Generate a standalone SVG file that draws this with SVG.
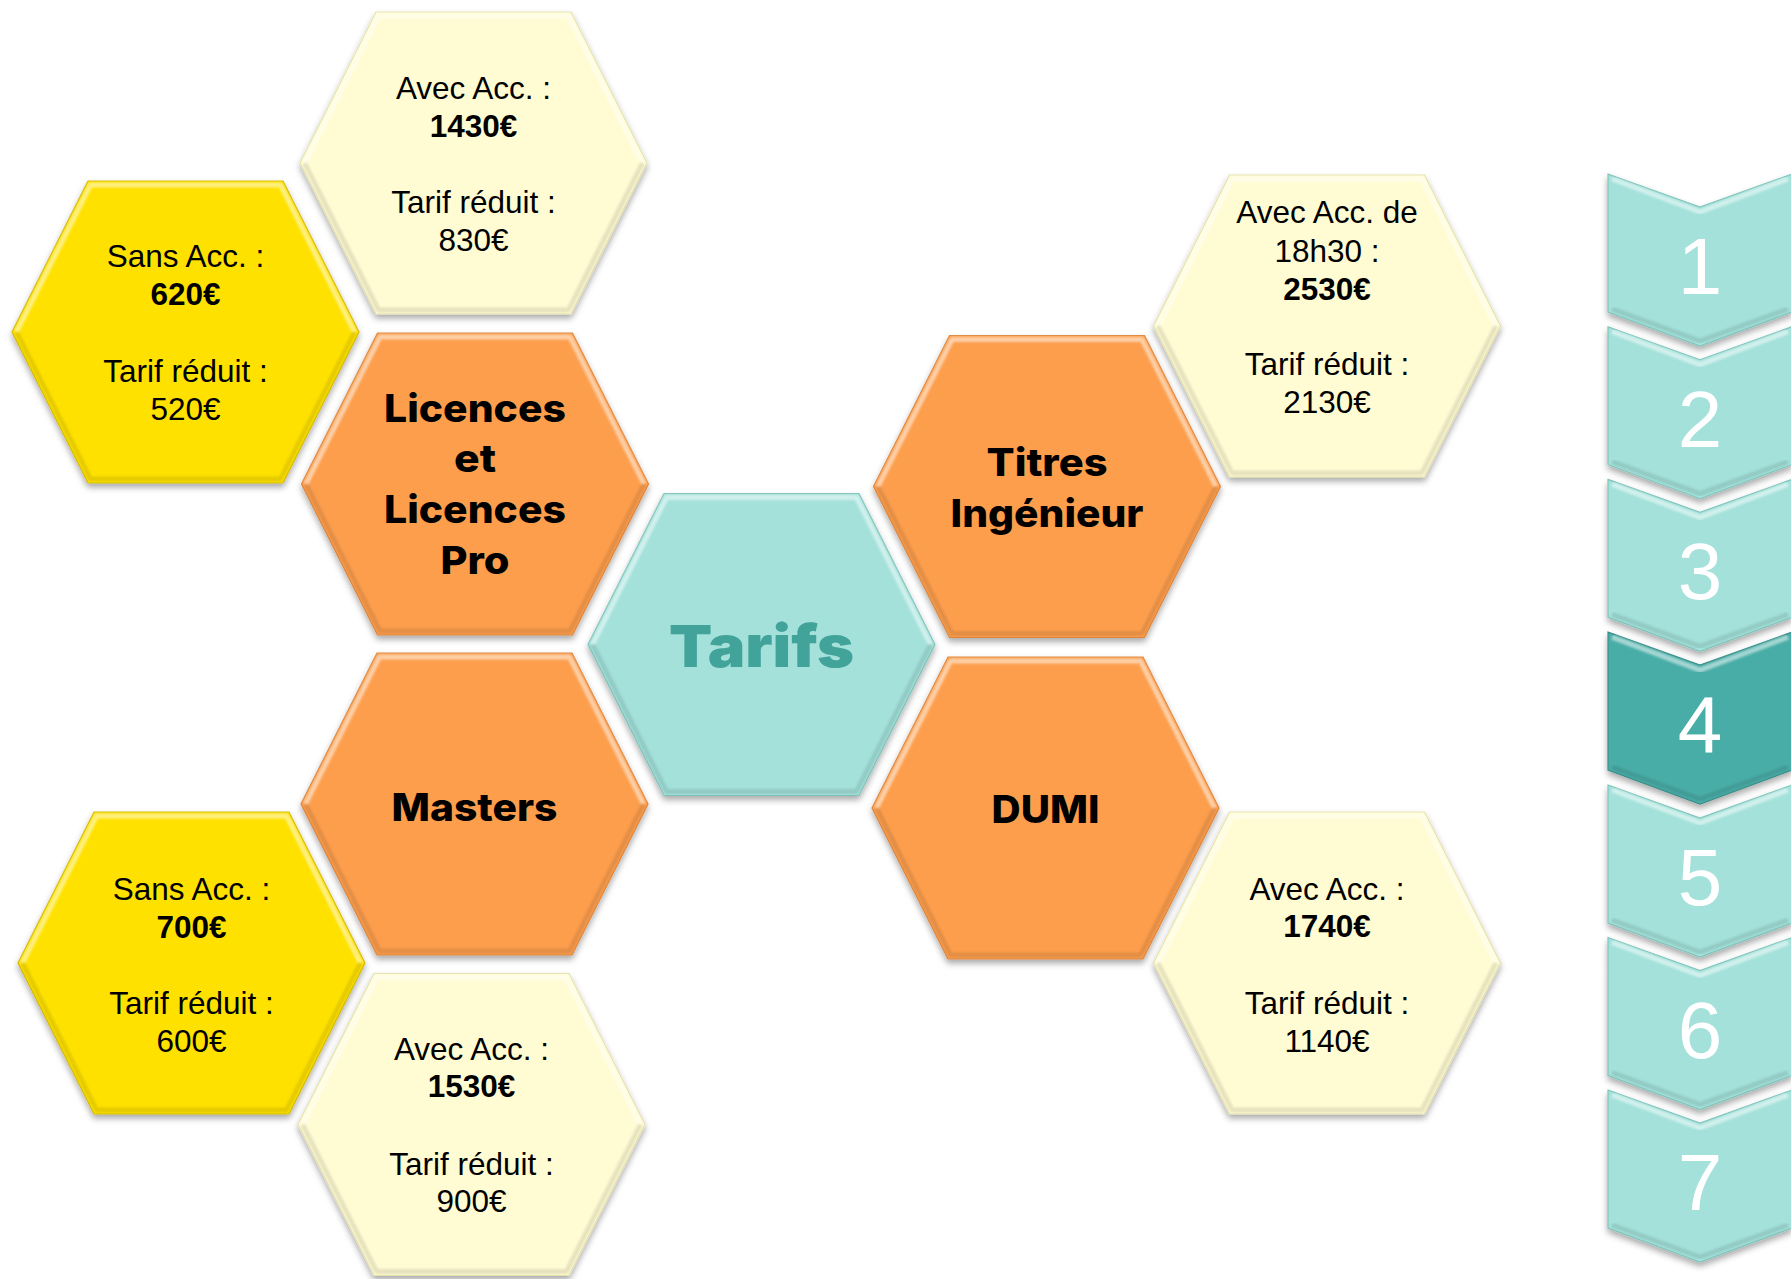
<svg xmlns="http://www.w3.org/2000/svg" xmlns:xlink="http://www.w3.org/1999/xlink" width="1791" height="1279" viewBox="0 0 1791 1279">
<style>
.cream{fill:#FFFCD3;stroke:#E6E1AE;stroke-width:1.2}
.yellow{fill:#FFE102;stroke:#D6BB00;stroke-width:1.2}
.orange{fill:#FD9E4D;stroke:#E0873C;stroke-width:1.2}
.teal{fill:#A3E1DA;stroke:#80C4BC;stroke-width:1.2}
.dark{fill:#4AADA7;stroke:#3A8F89;stroke-width:1.2}
.hi{fill:none;stroke:#FFFFFF;stroke-opacity:0.5;stroke-width:5;stroke-linejoin:round}
.lo{fill:none;stroke:#000000;stroke-opacity:0.1;stroke-width:5;stroke-linejoin:round}
.price{font-family:"Liberation Sans",Arial,sans-serif;font-size:31.5px;fill:#000;text-anchor:middle}
.b{font-weight:bold}
.cat{font-family:Inter,"Noto Sans",sans-serif;font-weight:800;font-size:38px;fill:#000;text-anchor:middle}
.title{font-family:Inter,"Noto Sans",sans-serif;font-weight:900;font-size:58px;fill:#42A39B;text-anchor:middle}
.num{font-family:"Liberation Sans",Arial,sans-serif;font-size:80px;fill:#FFFFFF;text-anchor:middle}
</style>
<defs>
<filter id="sh" x="-10%" y="-10%" width="120%" height="125%">
<feDropShadow dx="0" dy="4" stdDeviation="3" flood-color="#000" flood-opacity="0.33"/>
</filter>
<filter id="soft" x="-5%" y="-5%" width="110%" height="110%">
<feGaussianBlur stdDeviation="1.2"/>
</filter>
<path id="hex" d="M-173.5,0 L-97.5,-151 L97.5,-151 L173.5,0 L97.5,151 L-97.5,151 Z"/>
<path id="hexHi" d="M-169,0 L-95,-147 L95,-147 L169,0"/>
<path id="hexLo" d="M-169,0 L-95,147 L95,147 L169,0"/>
<path id="chev" d="M0,0 L92,33 L184,0 L184,138 L92,172 L0,138 Z"/>
<path id="chevHi" d="M4,5 L92,38 L180,5"/>
<path id="chevLo" d="M4,135 L92,167 L180,135"/>
</defs>
<rect width="1791" height="1279" fill="#FFFFFF"/>

<g id="connectors"></g>

<g id="node-avec-licences" transform="translate(473.5,163)">
<use xlink:href="#hex" class="cream" filter="url(#sh)"/>
<use xlink:href="#hexHi" class="hi" filter="url(#soft)"/><use xlink:href="#hexLo" class="lo" filter="url(#soft)"/>
<text class="price" y="-64">Avec Acc. :</text>
<text class="price b" y="-26">1430€</text>
<text class="price" y="50">Tarif réduit :</text>
<text class="price" y="88">830€</text>
</g>

<g id="node-sans-licences" transform="translate(185.5,332)">
<use xlink:href="#hex" class="yellow" filter="url(#sh)"/>
<use xlink:href="#hexHi" class="hi" filter="url(#soft)"/><use xlink:href="#hexLo" class="lo" filter="url(#soft)"/>
<text class="price" y="-65">Sans Acc. :</text>
<text class="price b" y="-27">620€</text>
<text class="price" y="50">Tarif réduit :</text>
<text class="price" y="88">520€</text>
</g>

<g id="node-licences" transform="translate(475,484)">
<use xlink:href="#hex" class="orange" filter="url(#sh)"/>
<use xlink:href="#hexHi" class="hi" filter="url(#soft)"/><use xlink:href="#hexLo" class="lo" filter="url(#soft)"/>
<text class="cat" y="-62" textLength="182" lengthAdjust="spacingAndGlyphs">Licences</text>
<text class="cat" y="-12" textLength="42" lengthAdjust="spacingAndGlyphs">et</text>
<text class="cat" y="39" textLength="182" lengthAdjust="spacingAndGlyphs">Licences</text>
<text class="cat" y="90" textLength="69" lengthAdjust="spacingAndGlyphs">Pro</text>
</g>

<g id="node-titres" transform="translate(1047,486.5)">
<use xlink:href="#hex" class="orange" filter="url(#sh)"/>
<use xlink:href="#hexHi" class="hi" filter="url(#soft)"/><use xlink:href="#hexLo" class="lo" filter="url(#soft)"/>
<text class="cat" y="-10.5" textLength="121" lengthAdjust="spacingAndGlyphs">Titres</text>
<text class="cat" y="40.5" textLength="193" lengthAdjust="spacingAndGlyphs">Ingénieur</text>
</g>

<g id="node-avec-titres" transform="translate(1327,326)">
<use xlink:href="#hex" class="cream" filter="url(#sh)"/>
<use xlink:href="#hexHi" class="hi" filter="url(#soft)"/><use xlink:href="#hexLo" class="lo" filter="url(#soft)"/>
<text class="price" y="-103">Avec Acc. de</text>
<text class="price" y="-64.5">18h30 :</text>
<text class="price b" y="-26">2530€</text>
<text class="price" y="49">Tarif réduit :</text>
<text class="price" y="87">2130€</text>
</g>

<g id="node-tarifs" transform="translate(761.5,644.5)">
<use xlink:href="#hex" class="teal" filter="url(#sh)"/>
<use xlink:href="#hexHi" class="hi" filter="url(#soft)"/><use xlink:href="#hexLo" class="lo" filter="url(#soft)"/>
<text class="title" y="22.5" textLength="185" lengthAdjust="spacingAndGlyphs">Tarifs</text>
</g>

<g id="node-masters" transform="translate(474.5,804)">
<use xlink:href="#hex" class="orange" filter="url(#sh)"/>
<use xlink:href="#hexHi" class="hi" filter="url(#soft)"/><use xlink:href="#hexLo" class="lo" filter="url(#soft)"/>
<text class="cat" y="17" textLength="166" lengthAdjust="spacingAndGlyphs">Masters</text>
</g>

<g id="node-dumi" transform="translate(1045.5,808)">
<use xlink:href="#hex" class="orange" filter="url(#sh)"/>
<use xlink:href="#hexHi" class="hi" filter="url(#soft)"/><use xlink:href="#hexLo" class="lo" filter="url(#soft)"/>
<text class="cat" y="15" textLength="108" lengthAdjust="spacingAndGlyphs">DUMI</text>
</g>

<g id="node-sans-masters" transform="translate(191.5,963)">
<use xlink:href="#hex" class="yellow" filter="url(#sh)"/>
<use xlink:href="#hexHi" class="hi" filter="url(#soft)"/><use xlink:href="#hexLo" class="lo" filter="url(#soft)"/>
<text class="price" y="-63">Sans Acc. :</text>
<text class="price b" y="-25.5">700€</text>
<text class="price" y="51">Tarif réduit :</text>
<text class="price" y="88.5">600€</text>
</g>

<g id="node-avec-masters" transform="translate(471.5,1124.5)">
<use xlink:href="#hex" class="cream" filter="url(#sh)"/>
<use xlink:href="#hexHi" class="hi" filter="url(#soft)"/><use xlink:href="#hexLo" class="lo" filter="url(#soft)"/>
<text class="price" y="-64.5">Avec Acc. :</text>
<text class="price b" y="-27.5">1530€</text>
<text class="price" y="50.5">Tarif réduit :</text>
<text class="price" y="87">900€</text>
</g>

<g id="node-avec-dumi" transform="translate(1327,963)">
<use xlink:href="#hex" class="cream" filter="url(#sh)"/>
<use xlink:href="#hexHi" class="hi" filter="url(#soft)"/><use xlink:href="#hexLo" class="lo" filter="url(#soft)"/>
<text class="price" y="-63.5">Avec Acc. :</text>
<text class="price b" y="-26">1740€</text>
<text class="price" y="51">Tarif réduit :</text>
<text class="price" y="88.5">1140€</text>
</g>

<g id="node-step-1" transform="translate(1608,174)">
<use xlink:href="#chev" class="teal" filter="url(#sh)"/>
<use xlink:href="#chevHi" class="hi" filter="url(#soft)"/><use xlink:href="#chevLo" class="lo" filter="url(#soft)"/>
<text class="num" x="92" y="120">1</text>
</g>
<g id="node-step-2" transform="translate(1608,326.7)">
<use xlink:href="#chev" class="teal" filter="url(#sh)"/>
<use xlink:href="#chevHi" class="hi" filter="url(#soft)"/><use xlink:href="#chevLo" class="lo" filter="url(#soft)"/>
<text class="num" x="92" y="120">2</text>
</g>
<g id="node-step-3" transform="translate(1608,479.4)">
<use xlink:href="#chev" class="teal" filter="url(#sh)"/>
<use xlink:href="#chevHi" class="hi" filter="url(#soft)"/><use xlink:href="#chevLo" class="lo" filter="url(#soft)"/>
<text class="num" x="92" y="120">3</text>
</g>
<g id="node-step-4" transform="translate(1608,632.1)">
<use xlink:href="#chev" class="dark" filter="url(#sh)"/>
<use xlink:href="#chevHi" class="hi" filter="url(#soft)"/><use xlink:href="#chevLo" class="lo" filter="url(#soft)"/>
<text class="num" x="92" y="120">4</text>
</g>
<g id="node-step-5" transform="translate(1608,785)">
<use xlink:href="#chev" class="teal" filter="url(#sh)"/>
<use xlink:href="#chevHi" class="hi" filter="url(#soft)"/><use xlink:href="#chevLo" class="lo" filter="url(#soft)"/>
<text class="num" x="92" y="120">5</text>
</g>
<g id="node-step-6" transform="translate(1608,937.5)">
<use xlink:href="#chev" class="teal" filter="url(#sh)"/>
<use xlink:href="#chevHi" class="hi" filter="url(#soft)"/><use xlink:href="#chevLo" class="lo" filter="url(#soft)"/>
<text class="num" x="92" y="120">6</text>
</g>
<g id="node-step-7" transform="translate(1608,1090)">
<use xlink:href="#chev" class="teal" filter="url(#sh)"/>
<use xlink:href="#chevHi" class="hi" filter="url(#soft)"/><use xlink:href="#chevLo" class="lo" filter="url(#soft)"/>
<text class="num" x="92" y="120">7</text>
</g>
</svg>
